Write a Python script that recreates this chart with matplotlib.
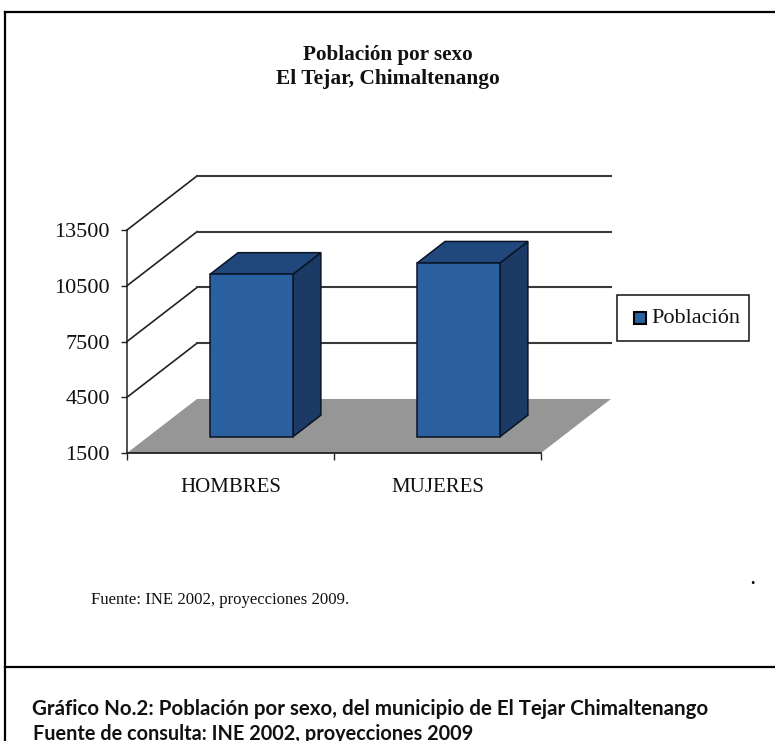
import matplotlib
matplotlib.use('Agg')
import matplotlib.pyplot as plt
from matplotlib.lines import Line2D
from matplotlib.patches import Polygon, Rectangle

# Data
categories = ['HOMBRES', 'MUJERES']
values = [10246, 10850]
y_ticks = [1500, 4500, 7500, 10500, 13500]

W, H = 775, 741
FRONT = '#2A5FA0'
TOP = '#20487C'
SIDE = '#1B3A66'
FLOOR = '#969696'
GRID = '#3A3A3A'
EDGE = '#0A1424'

# depth offset of the fake 3D, in data units
DX = 0.338
DY = 2906


def proj(x, y, d):
    return (x + d * DX, y + d * DY)


plt.rcParams['font.family'] = ['Liberation Serif', 'DejaVu Serif']
fig = plt.figure(figsize=(W / 100, H / 100), dpi=100, facecolor='white')
ax = fig.add_axes([127 / W, (H - 453) / H, 414 / W, 223 / H])
ax.set_xlim(0, 2)
ax.set_ylim(1500, 13500)
ax.set_facecolor('none')

# floor
floor = [proj(0, 1500, 0), proj(2, 1500, 0), proj(2, 1500, 1), proj(0, 1500, 1)]
ax.add_patch(Polygon(floor, closed=True, fc=FLOOR, ec='none', clip_on=False, zorder=1))

# walls
for t in y_ticks[1:]:
    x0, y0 = proj(0, t, 0)
    x1, y1 = proj(0, t, 1)
    ax.plot([x0, x1], [y0, y1], color='#222222', lw=1.2, clip_on=False, zorder=2)
    x2, y2 = proj(2, t, 1)
    ax.plot([x1, x2], [y1, y2], color=GRID, lw=1.5, clip_on=False, zorder=2)

# bars
for i, v in enumerate(values):
    x0 = i + 0.5 - 0.2
    x1 = i + 0.5 + 0.2
    front = [proj(x0, 1500, 0.3), proj(x1, 1500, 0.3), proj(x1, v, 0.3), proj(x0, v, 0.3)]
    top = [proj(x0, v, 0.3), proj(x1, v, 0.3), proj(x1, v, 0.7), proj(x0, v, 0.7)]
    side = [proj(x1, 1500, 0.3), proj(x1, 1500, 0.7), proj(x1, v, 0.7), proj(x1, v, 0.3)]
    ax.add_patch(Polygon(side, closed=True, fc=SIDE, ec=EDGE, lw=1.1, clip_on=False, zorder=3))
    ax.add_patch(Polygon(top, closed=True, fc=TOP, ec=EDGE, lw=1.1, clip_on=False, zorder=3))
    ax.add_patch(Polygon(front, closed=True, fc=FRONT, ec=EDGE, lw=1.1, clip_on=False, zorder=4))

# axes
ax.spines['top'].set_visible(False)
ax.spines['right'].set_visible(False)
ax.spines['left'].set_color('#222222')
ax.spines['bottom'].set_color('#222222')
ax.spines['left'].set_linewidth(1.1)
ax.spines['bottom'].set_linewidth(1.3)
ax.spines['left'].set_zorder(5)
ax.spines['bottom'].set_zorder(5)
ax.set_yticks(y_ticks)
ax.set_yticklabels([str(t) for t in y_ticks], fontsize=16, color='#111111')
ax.tick_params(axis='y', length=4, width=1, pad=8.5, color='#222222')
ax.set_xticks([0, 1, 2])
ax.set_xticklabels(['', '', ''])
ax.tick_params(axis='x', which='major', length=5, width=1, color='#222222')
ax.set_xticks([0.5, 1.5], minor=True)
ax.set_xticklabels(categories, minor=True, fontsize=15, color='#111111')
ax.tick_params(axis='x', which='minor', length=0, pad=18)

# legend, laid out by hand to get the uneven padding of the original
fig.add_artist(Rectangle((617 / W, 1 - 341 / H), 132 / W, 46 / H, transform=fig.transFigure,
                         fc='white', ec='#111111', lw=1.1))
fig.add_artist(Rectangle((634 / W, 1 - 324 / H), 12 / W, 12 / H, transform=fig.transFigure,
                         fc=FRONT, ec='black', lw=1.5))
fig.text(651 / W, 1 - 318 / H, 'Población', ha='left', va='center', fontsize=16, color='#111111')

# title and notes
fig.text(388 / W, 1 - 55 / H, 'Población por sexo', ha='center', va='center',
         fontsize=15.2, fontweight='bold', color='#111111')
fig.text(388 / W, 1 - 79 / H, 'El Tejar, Chimaltenango', ha='center', va='center',
         fontsize=15.4, fontweight='bold', color='#111111')
fig.text(91 / W, 1 - 600 / H, 'Fuente: INE 2002, proyecciones 2009.', ha='left', va='center',
         fontsize=12.1, color='#111111')
fig.text(752 / W, 1 - 580 / H, '.', ha='center', va='center', fontsize=13, fontweight='bold',
         color='black')

# page frame
for xs, ys in [((5, W), (12, 12)), ((5, 5), (12, H)), ((5, W), (667, 667))]:
    fig.add_artist(Line2D([x / W for x in xs], [1 - y / H for y in ys], color='black', lw=1.6))

# caption below the frame
fig.text(32 / W, 1 - 709 / H, 'Gráfico No.2: Población por sexo, del municipio de El Tejar Chimaltenango',
         ha='left', va='center', family='Lato', fontweight='bold', fontsize=14.75, color='#111111')
fig.text(33 / W, 1 - 734 / H, 'Fuente de consulta: INE 2002, proyecciones 2009',
         ha='left', va='center', family='Lato', fontweight='bold', fontsize=14.3, color='#111111')

fig.savefig('out.png', dpi=100)
